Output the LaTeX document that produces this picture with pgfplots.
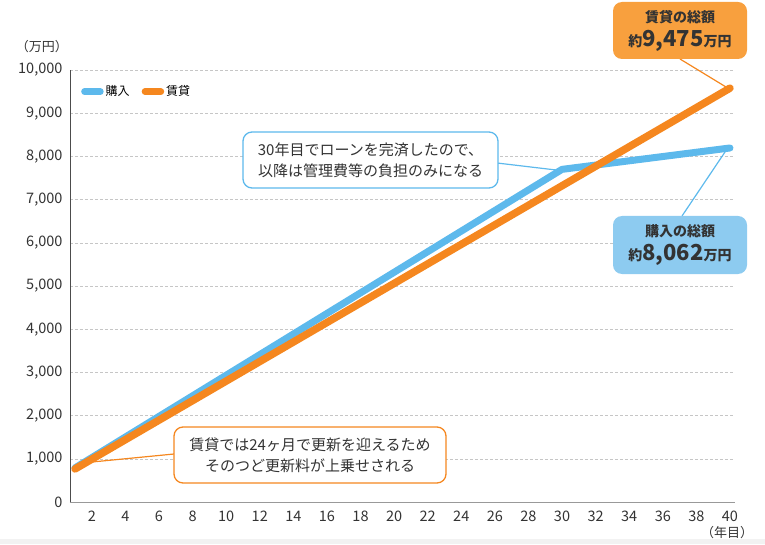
\documentclass[border=0pt]{standalone}
\usepackage{fontspec}
\setmainfont{Noto Sans CJK JP}
\usepackage{pgfplots}
\pgfplotsset{compat=1.18}

\definecolor{buyblue}{HTML}{5DB9EC}
\definecolor{rentorange}{HTML}{F5871F}
\definecolor{orbox}{HTML}{F8A03E}
\definecolor{bluebox}{HTML}{8DCBF0}
\definecolor{txt}{HTML}{333333}

\begin{document}
\begin{tikzpicture}
% page frame in pixel units (origin top-left)
\begin{scope}[x=1pt,y=-1pt,shift={(-70pt,502pt)}]
  \path[use as bounding box] (0,0) rectangle (765,544);
  \fill[gray!10] (0,539) rectangle (765,544);
\end{scope}

\begin{axis}[
    scale only axis,
    width=665pt, height=432pt,
    xmin=0.7, xmax=40.3,
    ymin=0, ymax=10000,
    axis lines*=left,
    x axis line style={draw=gray!80, line width=0.9pt},
    y axis line style={draw=black!70, line width=0.9pt},
    xtick={2,4,...,40},
    ytick={0,1000,...,10000},
    scaled y ticks=false,
    major tick length=0pt,
    ymajorgrids,
    grid style={densely dashed, gray!45, line width=0.6pt},
    tick label style={font=\fontsize{14.5}{16}\selectfont, text=txt},
    /pgf/number format/assume math mode=true,
    /pgf/number format/1000 sep={,},
    xticklabel style={text height=11pt, text depth=1pt, yshift=-5pt},
    yticklabel style={xshift=-4pt},
    legend style={at={(0.012,0.95)}, anchor=west, draw=none, fill=none,
        legend columns=-1, font=\fontsize{12}{14}\selectfont,
        /tikz/every even column/.append style={column sep=10pt}},
    legend image code/.code={\draw[#1, line width=6.5pt, line cap=round] (2pt,0pt) -- (18pt,0pt);},
    clip=false,
]
\addplot[buyblue, line width=7pt, line cap=round, line join=round]
    coordinates {(1,790) (30,7700) (40,8195)};
\addlegendentry{購入}
\addplot[rentorange, line width=7.5pt, line cap=round, line join=round]
    coordinates {(1,765) (40,9580)};
\addlegendentry{賃貸}
\end{axis}

\begin{scope}[x=1pt,y=-1pt,shift={(-70pt,502pt)}, every node/.style={text=txt}]
  \node at (42,47) {\fontsize{13}{15}\selectfont （万円）};
  \node at (727,533) {\fontsize{13}{15}\selectfont （年目）};
  % connectors
  \draw[rentorange, line width=1.2pt] (680,59) -- (726,87);
  \draw[buyblue, line width=1.2pt] (682,216) -- (727,149);
  \draw[buyblue, line width=1.2pt] (497,163) -- (556,170);
  \draw[rentorange, line width=1.2pt] (174,454) -- (92,462);
  % total boxes
  \fill[orbox, rounded corners=9pt] (613,2) rectangle (747,59);
  \node[align=center, font=\fontsize{14}{24}\selectfont\bfseries] at (680,31)
      {賃貸の総額\\約{\fontsize{22}{24}\selectfont 9,475}万円};
  \fill[bluebox, rounded corners=9pt] (613,216) rectangle (747,274);
  \node[align=center, font=\fontsize{14}{24}\selectfont\bfseries] at (680,245)
      {購入の総額\\約{\fontsize{22}{24}\selectfont 8,062}万円};
  % callouts
  \draw[buyblue, line width=1.3pt, fill=white, rounded corners=9pt] (243,132) rectangle (498,188);
  \node[align=center, font=\fontsize{15}{21}\selectfont] at (370.5,160)
      {30年目でローンを完済したので、\\以降は管理費等の負担のみになる};
  \draw[rentorange, line width=1.3pt, fill=white, rounded corners=9pt] (174,427) rectangle (446,483);
  \node[align=center, font=\fontsize{15}{21}\selectfont] at (310,455)
      {賃貸では24ヶ月で更新を迎えるため\\そのつど更新料が上乗せされる};
\end{scope}
\end{tikzpicture}
\end{document}
